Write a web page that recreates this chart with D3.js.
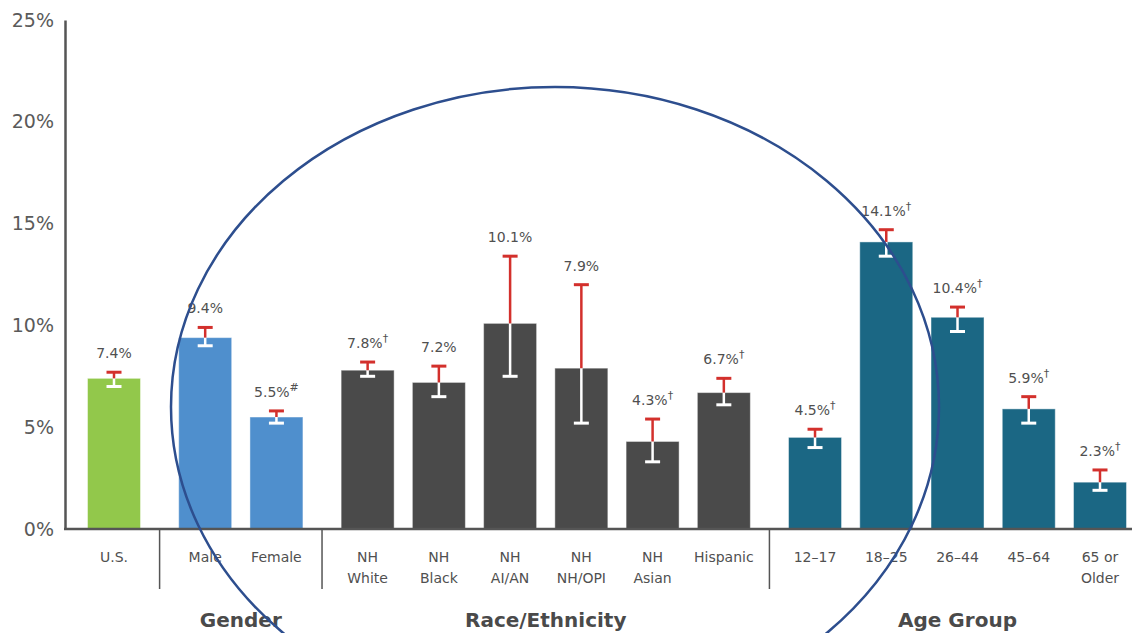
<!DOCTYPE html>
<html>
<head>
<meta charset="utf-8">
<script src="https://cdn.jsdelivr.net/npm/d3@7"></script>
<style>
  html, body { margin: 0; padding: 0; background: #ffffff; }
  svg { display: block; }
  text { font-family: "DejaVu Sans", Verdana, sans-serif; }
</style>
</head>
<body>
<svg id="chart" width="1132" height="633"></svg>
<script>
// Prevalence by population group, with 95% confidence intervals
const categories = ["U.S.", "Male", "Female", "NH\nWhite", "NH\nBlack", "NH\nAI/AN", "NH\nNH/OPI",
                    "NH\nAsian", "Hispanic", "12–17", "18–25", "26–44", "45–64", "65 or\nOlder"];
const groupOf    = [0, 1, 1, 2, 2, 2, 2, 2, 2, 3, 3, 3, 3, 3];
const groupNames = ["", "Gender", "Race/Ethnicity", "Age Group"];
const groupColors = ["#92c84b", "#4f8fcd", "#4a4a4a", "#1b6784"];
const values = [7.4, 9.4, 5.5, 7.8, 7.2, 10.1, 7.9, 4.3, 6.7, 4.5, 14.1, 10.4, 5.9, 2.3];
const ciLow  = [7.0, 9.0, 5.2, 7.5, 6.5, 7.5, 5.2, 3.3, 6.1, 4.0, 13.4, 9.7, 5.2, 1.9];
const ciHigh = [7.7, 9.9, 5.8, 8.2, 8.0, 13.4, 12.0, 5.4, 7.4, 4.9, 14.7, 10.9, 6.5, 2.9];
const notes  = ["", "", "#", "†", "", "", "", "†", "†", "†", "†", "†", "†", "†"];
const yTicks = [0, 5, 10, 15, 20, 25];

const svg = d3.select("#chart");
const axisColor = "#555555";
const textColor = "#505050";
const gapUnits = 0.28;            // extra space between groups, in bar slots
const barW = 53;

// continuous slot position: index plus a gap for each group boundary crossed
const slot = categories.map((c, i) => i + groupOf[i] * gapUnits);
const x = d3.scaleLinear()
  .domain([0, slot[slot.length - 1]])
  .range([114, 1100]);
const y = d3.scaleLinear().domain([0, 25]).range([529, 20]);

const rows = categories.map((c, i) => ({
  name: c, g: groupOf[i], v: values[i], lo: ciLow[i], hi: ciHigh[i], note: notes[i], cx: x(slot[i])
}));

// Y axis
const yAxis = d3.axisLeft(y).tickValues(yTicks).tickFormat(d => d + "%").tickSize(0).tickPadding(11);
const yg = svg.append("g").attr("transform", "translate(65,0)").call(yAxis);
yg.select(".domain").attr("stroke", axisColor).attr("stroke-width", 2.5);
yg.selectAll("text")
  .attr("font-size", 19).attr("fill", "#5a5a5a")
  .attr("font-family", "'DejaVu Sans', Verdana, sans-serif");

// Bars
svg.append("g").selectAll("rect").data(rows).join("rect")
  .attr("x", d => d.cx - barW / 2)
  .attr("y", d => y(d.v))
  .attr("width", barW)
  .attr("height", d => y(0) - y(d.v))
  .attr("fill", d => groupColors[d.g])
  .attr("stroke", "rgba(255,255,255,0.45)")
  .attr("stroke-width", 1);

// Error bars: white inside the bar, red above it
const capW = 15;
const eb = svg.append("g").selectAll("g").data(rows).join("g");
eb.append("line")
  .attr("x1", d => d.cx).attr("x2", d => d.cx)
  .attr("y1", d => y(d.lo)).attr("y2", d => y(d.v))
  .attr("stroke", "#ffffff").attr("stroke-width", 2.5);
eb.append("line")
  .attr("x1", d => d.cx - capW / 2).attr("x2", d => d.cx + capW / 2)
  .attr("y1", d => y(d.lo)).attr("y2", d => y(d.lo))
  .attr("stroke", "#ffffff").attr("stroke-width", 3);
eb.append("line")
  .attr("x1", d => d.cx).attr("x2", d => d.cx)
  .attr("y1", d => y(d.hi)).attr("y2", d => y(d.v))
  .attr("stroke", "#d3302c").attr("stroke-width", 2.5);
eb.append("line")
  .attr("x1", d => d.cx - capW / 2).attr("x2", d => d.cx + capW / 2)
  .attr("y1", d => y(d.hi)).attr("y2", d => y(d.hi))
  .attr("stroke", "#d3302c").attr("stroke-width", 3);

// Value labels with footnote marks
const vl = svg.append("g").selectAll("text").data(rows).join("text")
  .attr("x", d => d.cx)
  .attr("y", d => y(d.hi) - 14)
  .attr("text-anchor", "middle")
  .attr("font-size", 14)
  .attr("fill", textColor);
vl.append("tspan").text(d => d3.format(".1f")(d.v) + "%");
vl.filter(d => d.note).append("tspan")
  .attr("font-size", 11).attr("dy", -6)
  .text(d => d.note);

// X axis baseline
svg.append("line")
  .attr("x1", 64).attr("x2", 1132)
  .attr("y1", y(0)).attr("y2", y(0))
  .attr("stroke", axisColor).attr("stroke-width", 2.5);

// Group separators
const seps = [];
for (let i = 1; i < rows.length; i++) {
  if (rows[i].g !== rows[i - 1].g) seps.push((rows[i].cx + rows[i - 1].cx) / 2);
}
svg.append("g").selectAll("line").data(seps).join("line")
  .attr("x1", d => d).attr("x2", d => d)
  .attr("y1", y(0)).attr("y2", 589)
  .attr("stroke", axisColor).attr("stroke-width", 1.5);

// Category labels
const cl = svg.append("g").selectAll("text").data(rows).join("text")
  .attr("text-anchor", "middle")
  .attr("font-size", 14)
  .attr("fill", textColor);
cl.selectAll("tspan").data(d => d.name.split("\n").map(t => ({ t, cx: d.cx })))
  .join("tspan")
  .attr("x", d => d.cx)
  .attr("y", (d, i) => 562 + i * 21)
  .text(d => d.t);

// Group titles
const groupCenters = groupNames.map((n, g) => {
  const members = rows.filter(r => r.g === g);
  return { name: n, cx: d3.mean(members, r => r.cx) };
}).filter(d => d.name);
svg.append("g").selectAll("text").data(groupCenters).join("text")
  .attr("x", d => d.cx).attr("y", 627)
  .attr("text-anchor", "middle")
  .attr("font-size", 20).attr("font-weight", "bold")
  .attr("fill", "#4a4a4a")
  .text(d => d.name);

// Highlight ellipse around the gender and race/ethnicity groups
svg.append("ellipse")
  .attr("cx", 555).attr("cy", 407).attr("rx", 384).attr("ry", 320)
  .attr("fill", "none").attr("stroke", "#2d4e8e").attr("stroke-width", 2.5);
</script>
</body>
</html>
